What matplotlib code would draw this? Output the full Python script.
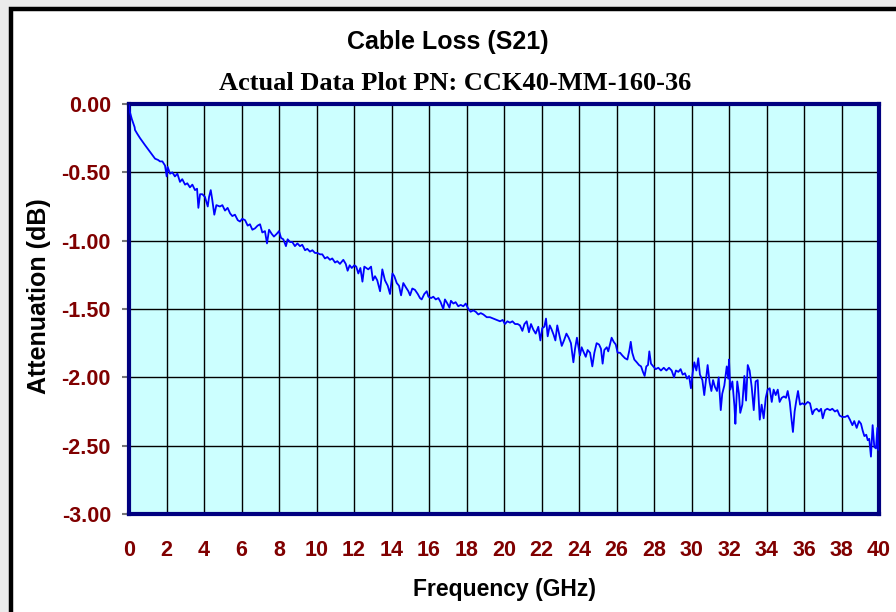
import matplotlib
matplotlib.use("Agg")
import matplotlib.pyplot as plt
from matplotlib.patches import Rectangle

# frequency (GHz) and attenuation (dB)
freq = [0.00, 0.05, 0.15, 0.30, 0.32, 0.45, 0.59, 0.85, 1.12, 1.39, 1.56, 1.65, 1.78, 1.92,
        2.01, 2.06, 2.19, 2.31, 2.45, 2.58, 2.72, 2.84, 2.99, 3.11, 3.25, 3.38, 3.52, 3.63,
        3.70, 3.79, 3.91, 4.05, 4.20, 4.27, 4.36, 4.44, 4.55, 4.66, 4.85, 4.98, 5.12, 5.26,
        5.39, 5.51, 5.65, 5.80, 5.92, 6.04, 6.19, 6.33, 6.45, 6.58, 6.72, 6.86, 6.99, 7.11,
        7.25, 7.36, 7.47, 7.61, 7.73, 7.88,
        8.00, 8.11, 8.23, 8.37, 8.46, 8.59, 8.71, 8.85, 8.98, 9.12, 9.24, 9.39, 9.51, 9.65,
        9.78, 9.92, 10.04, 10.19, 10.31, 10.45, 10.58, 10.72, 10.84, 10.99, 11.11, 11.25,
        11.43, 11.56, 11.66, 11.77, 11.88, 12.02, 12.12, 12.23, 12.34, 12.45, 12.55, 12.66,
        12.76, 12.91, 13.01, 13.12, 13.24, 13.39, 13.51, 13.65, 13.80, 13.92, 14.05, 14.15,
        14.28, 14.40, 14.51, 14.63, 14.76, 14.90, 14.99, 15.11, 15.25, 15.40, 15.52, 15.61,
        15.75,
        15.88, 15.97, 16.11, 16.23, 16.36, 16.50, 16.62, 16.76, 16.85, 16.98, 17.09, 17.17,
        17.30, 17.42, 17.56, 17.69, 17.83, 17.96, 18.10, 18.22, 18.36, 18.49, 18.63, 18.76,
        18.90, 19.08, 19.25, 19.43, 19.61, 19.79, 19.93, 20.05, 20.18, 20.32, 20.45, 20.59,
        20.73, 20.85, 20.98, 21.09, 21.21, 21.33, 21.44, 21.56, 21.69, 21.83, 21.94, 22.04,
        22.15, 22.24, 22.33, 22.44, 22.54, 22.65, 22.74, 22.84, 22.97, 23.08, 23.20, 23.33,
        23.45, 23.57, 23.70, 23.79, 23.89,
        24.05, 24.14, 24.23, 24.36, 24.46, 24.59, 24.71, 24.82, 24.94, 25.07, 25.17, 25.26,
        25.35, 25.48, 25.56, 25.67, 25.74, 25.85, 25.96, 26.06, 26.19, 26.31, 26.45, 26.58,
        26.69, 26.76, 26.84, 26.95, 27.08, 27.20, 27.31, 27.41, 27.50, 27.59, 27.68, 27.75,
        27.84, 27.96, 28.09, 28.23, 28.37, 28.52, 28.66, 28.80, 28.94, 29.07, 29.17, 29.30,
        29.42, 29.53, 29.65, 29.76, 29.87, 29.97, 30.06, 30.15, 30.26, 30.36, 30.45, 30.58,
        30.68, 30.77, 30.86, 30.97, 31.06, 31.15, 31.25, 31.36, 31.45, 31.56, 31.64, 31.75,
        31.88, 31.96,
        32.00, 32.07, 32.18, 32.29, 32.34, 32.44, 32.53, 32.60, 32.71, 32.82, 32.91, 33.00,
        33.10, 33.21, 33.32, 33.42, 33.53, 33.64, 33.74, 33.85, 33.96, 34.06, 34.17, 34.28,
        34.38, 34.49, 34.60, 34.70, 34.81, 34.93, 35.04, 35.13, 35.24, 35.32, 35.41, 35.50,
        35.59, 35.68, 35.79, 35.91, 36.05, 36.20, 36.32, 36.45, 36.55, 36.68, 36.80, 36.91,
        37.00, 37.12, 37.24, 37.39, 37.51, 37.65, 37.78, 37.90, 38.04, 38.19, 38.33, 38.45,
        38.58, 38.68, 38.81, 38.93, 39.04, 39.13, 39.22, 39.32, 39.40, 39.48, 39.57, 39.66,
        39.75, 39.84, 39.91, 39.96]
loss = [-0.01, -0.06, -0.11, -0.17, -0.19, -0.22, -0.25, -0.30, -0.35, -0.40, -0.41, -0.42, -0.42, -0.45,
        -0.53, -0.46, -0.51, -0.50, -0.53, -0.51, -0.57, -0.55, -0.59, -0.58, -0.61, -0.59, -0.63, -0.62,
        -0.76, -0.66, -0.66, -0.68, -0.75, -0.68, -0.63, -0.70, -0.81, -0.74, -0.75, -0.74, -0.78, -0.76,
        -0.80, -0.82, -0.81, -0.85, -0.86, -0.84, -0.85, -0.89, -0.88, -0.92, -0.91, -0.89, -0.88, -0.94,
        -0.93, -1.02, -0.92, -0.95, -0.97, -0.95,
        -0.93, -0.98, -0.99, -1.04, -0.99, -1.01, -1.01, -1.04, -1.02, -1.04, -1.03, -1.07, -1.06, -1.08,
        -1.07, -1.09, -1.09, -1.10, -1.10, -1.13, -1.12, -1.14, -1.13, -1.16, -1.15, -1.17,
        -1.14, -1.17, -1.22, -1.18, -1.20, -1.18, -1.19, -1.24, -1.20, -1.30, -1.19, -1.20,
        -1.21, -1.19, -1.29, -1.26, -1.29, -1.37, -1.21, -1.29, -1.33, -1.39, -1.24, -1.26,
        -1.31, -1.33, -1.40, -1.31, -1.34, -1.37, -1.40, -1.35, -1.36, -1.39, -1.42, -1.43,
        -1.39,
        -1.37, -1.41, -1.42, -1.41, -1.43, -1.42, -1.45, -1.50, -1.43, -1.46, -1.49, -1.44,
        -1.46, -1.45, -1.48, -1.47, -1.48, -1.46, -1.50, -1.52, -1.51, -1.52, -1.54, -1.53,
        -1.54, -1.56, -1.56, -1.57, -1.58, -1.59, -1.58, -1.61, -1.59, -1.60, -1.59, -1.61,
        -1.61, -1.62, -1.66, -1.61, -1.59, -1.67, -1.61, -1.65, -1.68, -1.63, -1.73, -1.64,
        -1.63, -1.57, -1.70, -1.62, -1.65, -1.69, -1.73, -1.62, -1.70, -1.77, -1.73, -1.68,
        -1.71, -1.75, -1.89, -1.79, -1.71,
        -1.84, -1.78, -1.81, -1.85, -1.80, -1.82, -1.92, -1.82, -1.75, -1.76, -1.79, -1.90,
        -1.80, -1.78, -1.81, -1.75, -1.71, -1.74, -1.76, -1.82, -1.82, -1.84, -1.86, -1.87,
        -1.80, -1.74, -1.82, -1.87, -1.89, -1.91, -1.92, -1.96, -1.99, -1.92, -1.91, -1.81,
        -1.90, -1.92, -1.94, -1.93, -1.95, -1.93, -1.95, -1.93, -1.95, -2.00, -1.95, -1.96,
        -1.94, -1.98, -1.97, -2.01, -1.99, -2.08, -1.97, -1.89, -1.95, -1.86, -1.98, -2.02,
        -2.13, -2.02, -1.91, -2.04, -2.10, -2.02, -2.07, -2.10, -2.00, -2.24, -2.12, -2.06,
        -1.92, -2.01,
        -1.87, -2.09, -2.03, -2.21, -2.34, -2.03, -2.12, -2.26, -2.20, -1.99, -2.17, -1.91,
        -1.95, -2.07, -2.24, -2.03, -2.02, -2.31, -2.20, -2.30, -2.15, -2.09, -2.08, -2.18,
        -2.09, -2.13, -2.09, -2.18, -2.15, -2.14, -2.15, -2.10, -2.18, -2.29, -2.40, -2.25,
        -2.17, -2.10, -2.20, -2.19, -2.20, -2.18, -2.19, -2.27, -2.24, -2.23, -2.25, -2.23,
        -2.30, -2.24, -2.23, -2.24, -2.23, -2.25, -2.24, -2.28, -2.29, -2.29, -2.28, -2.31,
        -2.35, -2.32, -2.37, -2.32, -2.34, -2.39, -2.43, -2.42, -2.46, -2.45, -2.58, -2.35,
        -2.51, -2.52, -2.37, -2.53]

xticks = list(range(0, 41, 2))
yticks = [0.0, -0.5, -1.0, -1.5, -2.0, -2.5, -3.0]

W, H = 896, 612
fig = plt.figure(figsize=(W / 100, H / 100), dpi=100, facecolor='#ebebeb')

# white panel with a thick black frame, running off the right/bottom edges
fig.patches.append(Rectangle((11 / W, -0.05), 1.0, (H - 9) / H + 0.05, transform=fig.transFigure,
                             facecolor='white', edgecolor='black', linewidth=3.2, zorder=-5))

ax = fig.add_axes([129 / W, (H - 514) / H, 750 / W, 410 / H], zorder=2)
ax.set_facecolor('#ccffff')
ax.plot(freq, loss, color='#0000ff', linewidth=1.3, zorder=3)

ax.set_xlim(0, 40)
ax.set_ylim(-3.0, 0.0)
ax.set_xticks(xticks)
ax.set_yticks(yticks)
ax.set_yticklabels(['%.2f' % v for v in yticks])
ax.grid(True, color='black', linewidth=1.0, zorder=1)
ax.set_axisbelow(True)

for s in ax.spines.values():
    s.set_color('#000080')
    s.set_linewidth(3.0)

dark_red = '#800000'
ax.tick_params(axis='x', length=0, pad=19, labelsize=15.5, labelcolor=dark_red)
ax.tick_params(axis='y', length=5, width=1.5, color='#777777', pad=8, labelsize=15.5, labelcolor=dark_red)
for lab in ax.get_xticklabels() + ax.get_yticklabels():
    lab.set_fontweight('bold')
    lab.set_family('Liberation Sans')

ax.set_xlabel('Frequency (GHz)', fontsize=16.5, fontweight='bold', family='Liberation Sans', labelpad=12)
ax.set_ylabel('Attenuation (dB)', fontsize=18, fontweight='bold', family='Liberation Sans')
ax.yaxis.set_label_coords(-0.104, 0.532)

fig.text(448 / W, 1 - 42 / H, 'Cable Loss (S21)', ha='center', va='center',
         fontsize=18, fontweight='bold', family='Liberation Sans')
fig.text(455 / W, 1 - 84 / H, 'Actual Data Plot PN: CCK40-MM-160-36', ha='center', va='center',
         fontsize=19, fontweight='bold', family='Liberation Serif')

fig.savefig('out.png', dpi=100, facecolor=fig.get_facecolor())
